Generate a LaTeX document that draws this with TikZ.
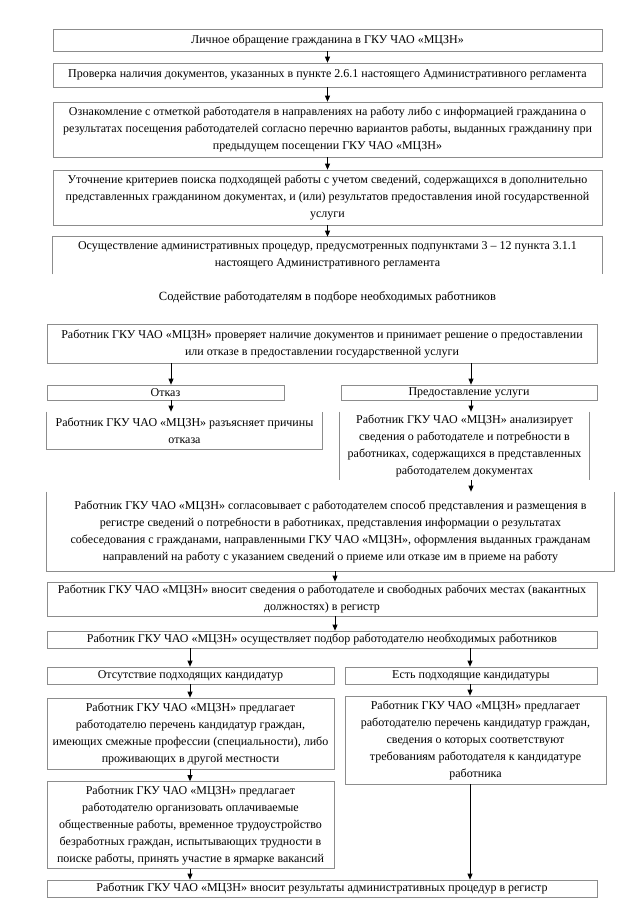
\documentclass[tikz,border=0pt]{standalone}
\usepackage{fontspec}
\setmainfont{Liberation Serif}
\usetikzlibrary{arrows.meta}

\tikzset{
  blok/.style={draw=black!45, line width=0.7pt, align=center, inner sep=0pt,
    font=\fontsize{12}{17}\selectfont},
  otkr/.style={blok, draw=none},
  kraj/.style={draw=black!45, line width=0.7pt},
  strelka/.style={-{Triangle[length=6pt,width=5pt]}, line width=0.7pt}
}

\begin{document}
\begin{tikzpicture}[x=1pt,y=-1pt]
  \useasboundingbox (0,0) rectangle (640,905);

  % Обращение гражданина
  \node[blok, minimum width=549pt, minimum height=22pt] (obr) at (327.5,40)
    {Личное обращение гражданина в ГКУ ЧАО «МЦЗН»};
  \node[blok, minimum width=549pt, minimum height=24pt] (prov) at (327.5,75)
    {Проверка наличия документов, указанных в пункте 2.6.1 настоящего Административного регламента};
  \node[blok, minimum width=549pt, minimum height=55pt] (oznak) at (327.5,129.5)
    {Ознакомление с отметкой работодателя в направлениях на работу либо с информацией гражданина о\\
     результатах посещения работодателей согласно перечню вариантов работы, выданных гражданину при\\
     предыдущем посещении ГКУ ЧАО «МЦЗН»};
  \node[blok, minimum width=549pt, minimum height=55pt] (utoch) at (327.5,197.5)
    {Уточнение критериев поиска подходящей работы с учетом сведений, содержащихся в дополнительно\\
     представленных гражданином документах, и (или) результатов предоставления иной государственной\\
     услуги};
  \node[otkr, minimum width=549pt, minimum height=37pt] (osush) at (327.5,255.5)
    {Осуществление административных процедур, предусмотренных подпунктами 3 – 12 пункта 3.1.1\\
     настоящего Административного регламента};
  \draw[kraj] (osush.south west) -- (osush.north west) -- (osush.north east) -- (osush.south east);

  \draw[strelka] (obr.south) -- (prov.north);
  \draw[strelka] (prov.south) -- (oznak.north);
  \draw[strelka] (oznak.south) -- (utoch.north);
  \draw[strelka] (utoch.south) -- (osush.north);

  % Заголовок
  \node[font=\fontsize{12.5}{14}\selectfont] (zag) at (327.5,297)
    {Содействие работодателям в подборе необходимых работников};

  % Решение
  \coordinate (xl) at (171,0);
  \coordinate (xr) at (471,0);
  \coordinate (xm) at (335,0);
  \node[blok, minimum width=550pt, minimum height=39pt] (resh) at (322,343.5)
    {Работник ГКУ ЧАО «МЦЗН» проверяет наличие документов и принимает решение о предоставлении\\
     или отказе в предоставлении государственной услуги};
  \node[blok, minimum width=237pt, minimum height=15pt] (otkaz) at (165.5,392.5) {Отказ};
  \node[blok, minimum width=256pt, minimum height=15pt] (predost) at (469,392.5) {Предоставление услуги};
  \node[otkr, minimum width=275pt, minimum height=37pt] (razyas) at (184.5,430.5)
    {Работник ГКУ ЧАО «МЦЗН» разъясняет причины\\ отказа};
  \draw[kraj] (razyas.north west) -- (razyas.south west) -- (razyas.south east) -- (razyas.north east);
  \node[otkr, minimum width=249pt, minimum height=68pt] (analiz) at (464.5,446)
    {Работник ГКУ ЧАО «МЦЗН» анализирует\\ сведения о работодателе и потребности в\\
     работниках, содержащихся в представленных\\ работодателем документах};
  \draw[kraj] (analiz.north west) -- (analiz.south west);
  \draw[kraj] (analiz.north east) -- (analiz.south east);
  \node[otkr, minimum width=567pt, minimum height=79pt] (soglas) at (330.5,531.5)
    {Работник ГКУ ЧАО «МЦЗН» согласовывает с работодателем способ представления и размещения в\\
     регистре сведений о потребности в работниках, представления информации о результатах\\
     собеседования с гражданами, направленными ГКУ ЧАО «МЦЗН», оформления выданных гражданам\\
     направлений на работу с указанием сведений о приеме или отказе им в приеме на работу};
  \draw[kraj] (soglas.north west) -- (soglas.south west) -- (soglas.south east) -- (soglas.north east);
  \node[blok, minimum width=550pt, minimum height=34pt] (vnosit) at (322,599)
    {Работник ГКУ ЧАО «МЦЗН» вносит сведения о работодателе и свободных рабочих местах (вакантных\\
     должностях) в регистр};

  \draw[strelka] (resh.south -| xl) -- (otkaz.north -| xl);
  \draw[strelka] (resh.south -| xr) -- (predost.north -| xr);
  \draw[strelka] (otkaz.south -| xl) -- (razyas.north -| xl);
  \draw[strelka] (predost.south -| xr) -- (analiz.north -| xr);
  \draw[strelka] (analiz.south -| xr) -- (soglas.north -| xr);
  \draw[strelka] (soglas.south -| xm) -- (vnosit.north -| xm);

  % Подбор работников
  \coordinate (xn) at (190,0);
  \coordinate (xe) at (470,0);
  \node[blok, minimum width=550pt, minimum height=17pt] (podbor) at (322,639.5)
    {Работник ГКУ ЧАО «МЦЗН» осуществляет подбор работодателю необходимых работников};
  \node[blok, minimum width=287pt, minimum height=17pt] (net) at (190.5,675.5)
    {Отсутствие подходящих кандидатур};
  \node[blok, minimum width=252pt, minimum height=17pt] (est) at (471,675.5)
    {Есть подходящие кандидатуры};
  \node[blok, minimum width=287pt, minimum height=71pt] (smezh) at (190.5,733.5)
    {Работник ГКУ ЧАО «МЦЗН» предлагает\\ работодателю перечень кандидатур граждан,\\
     имеющих смежные профессии (специальности), либо\\ проживающих в другой местности};
  \node[blok, minimum width=261pt, minimum height=88pt] (sootv) at (475.5,740)
    {Работник ГКУ ЧАО «МЦЗН» предлагает\\ работодателю перечень кандидатур граждан,\\
     сведения о которых соответствуют\\ требованиям работодателя к кандидатуре\\ работника};
  \node[blok, minimum width=287pt, minimum height=87pt] (obshch) at (190.5,825)
    {Работник ГКУ ЧАО «МЦЗН» предлагает\\ работодателю организовать оплачиваемые\\
     общественные работы, временное трудоустройство\\ безработных граждан, испытывающих трудности в\\
     поиске работы, принять участие в ярмарке вакансий};
  \node[blok, minimum width=550pt, minimum height=17pt] (itog) at (322,888.5)
    {Работник ГКУ ЧАО «МЦЗН» вносит результаты административных процедур в регистр};

  \draw[strelka] (vnosit.south -| xm) -- (podbor.north -| xm);
  \draw[strelka] (podbor.south -| xn) -- (net.north -| xn);
  \draw[strelka] (podbor.south -| xe) -- (est.north -| xe);
  \draw[strelka] (net.south -| xn) -- (smezh.north -| xn);
  \draw[strelka] (est.south -| xe) -- (sootv.north -| xe);
  \draw[strelka] (smezh.south -| xn) -- (obshch.north -| xn);
  \draw[strelka] (obshch.south -| xn) -- (itog.north -| xn);
  \draw[strelka] (sootv.south -| xe) -- (itog.north -| xe);

\end{tikzpicture}
\end{document}
